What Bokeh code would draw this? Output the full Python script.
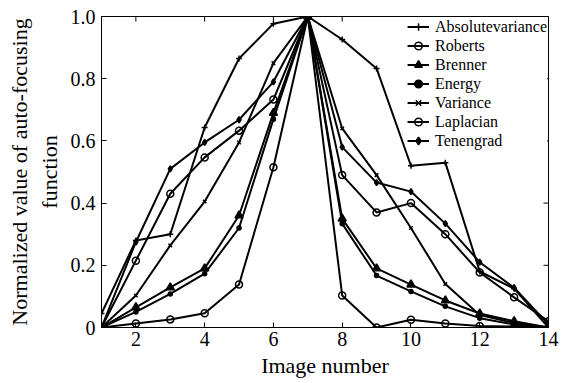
import math
from bokeh.plotting import figure
from bokeh.models import FixedTicker, Range1d, Legend, LegendItem
from bokeh.embed import file_html
from bokeh.resources import INLINE

image_number = list(range(1, 15))
absolutevariance = [0.045, 0.28, 0.30, 0.643, 0.865, 0.977, 1.0, 0.926, 0.833, 0.52, 0.53, 0.18, 0.125, 0.0]
roberts = [0.0, 0.013, 0.026, 0.046, 0.138, 0.515, 1.0, 0.103, 0.0, 0.025, 0.013, 0.005, 0.003, 0.0]
brenner = [0.0, 0.065, 0.129, 0.19, 0.36, 0.69, 1.0, 0.35, 0.19, 0.138, 0.087, 0.045, 0.02, 0.0]
energy = [0.0, 0.05, 0.108, 0.173, 0.32, 0.67, 1.0, 0.334, 0.167, 0.116, 0.068, 0.03, 0.01, 0.0]
variance = [0.0, 0.103, 0.264, 0.405, 0.595, 0.85, 1.0, 0.64, 0.49, 0.32, 0.14, 0.04, 0.015, 0.0]
laplacian = [0.0, 0.215, 0.43, 0.547, 0.633, 0.733, 1.0, 0.49, 0.37, 0.40, 0.30, 0.177, 0.097, 0.02]
tenengrad = [0.0, 0.275, 0.51, 0.595, 0.668, 0.79, 1.0, 0.58, 0.466, 0.437, 0.334, 0.21, 0.128, 0.01]

series_names = ["Absolutevariance", "Roberts", "Brenner", "Energy", "Variance", "Laplacian", "Tenengrad"]
series_values = [absolutevariance, roberts, brenner, energy, variance, laplacian, tenengrad]
x_ticks = [2, 4, 6, 8, 10, 12, 14]
y_ticks = [0, 0.2, 0.4, 0.6, 0.8, 1.0]
y_tick_labels = {0: "0", 0.2: "0.2", 0.4: "0.4", 0.6: "0.6", 0.8: "0.8", 1.0: "1.0"}

FONT = "Liberation Serif"
X_MIN, X_MAX, Y_MIN, Y_MAX = 1, 14, 0, 1

p = figure(width=565, height=383, output_backend="svg", toolbar_location=None,
           x_range=Range1d(X_MIN, X_MAX), y_range=Range1d(Y_MIN, Y_MAX),
           min_border_left=101, min_border_right=17, min_border_top=16, min_border_bottom=56)
p.background_fill_color = "white"
p.border_fill_color = "white"
p.outline_line_color = "black"
p.outline_line_width = 1
p.grid.visible = False

# inner tick marks on top and right frame edges (half of each dash is clipped by the frame)
p.scatter(x_ticks, [Y_MAX] * len(x_ticks), marker="dash", size=10, angle=math.pi / 2,
          line_color="black", line_width=1)
p.scatter([X_MAX] * len(y_ticks), y_ticks, marker="dash", size=10, angle=0,
          line_color="black", line_width=1)

styles = [
    dict(marker="cross", size=6, fill_color="black"),
    dict(marker="circle", size=7, fill_color=None),
    dict(marker="triangle", size=8, fill_color="black"),
    dict(marker="circle", size=4, fill_color="black"),
    dict(marker="x", size=5, fill_color="black"),
    dict(marker="circle", size=7, fill_color=None),
    dict(marker="diamond", size=6, fill_color="black"),
]

items = []
for name, vals, st in zip(series_names, series_values, styles):
    ln = p.line(image_number, vals, line_color="black", line_width=2)
    sc = p.scatter(image_number, vals, marker=st["marker"], size=st["size"],
                   line_color="black", line_width=1.5, fill_color=st["fill_color"])
    items.append(LegendItem(label=name, renderers=[ln, sc]))

legend = Legend(items=items, location="top_right")
legend.label_text_font = FONT
legend.label_text_font_size = "16px"
legend.label_text_color = "black"
legend.background_fill_color = "white"
legend.background_fill_alpha = 1.0
legend.border_line_color = None
legend.glyph_width = 22
legend.glyph_height = 19
legend.label_height = 19
legend.spacing = 0
legend.label_standoff = 6
legend.padding = 2
legend.margin = 1
p.add_layout(legend)

def style_axis(ax):
    ax.axis_line_color = "black"
    ax.major_tick_line_color = "black"
    ax.major_tick_in = 5
    ax.major_tick_out = 0
    ax.minor_tick_line_color = None
    ax.major_label_text_font = FONT
    ax.major_label_text_color = "black"
    ax.major_label_text_font_size = "20px"
    ax.axis_label_text_font = FONT
    ax.axis_label_text_font_style = "normal"
    ax.axis_label_text_color = "black"
    ax.axis_label_text_font_size = "22px"

xa = p.xaxis[0]
xa.ticker = FixedTicker(ticks=x_ticks)
xa.axis_label = "Image number"
xa.major_label_standoff = 4
xa.axis_label_standoff = 4
style_axis(xa)

ya = p.yaxis[0]
ya.ticker = FixedTicker(ticks=y_ticks)
ya.major_label_overrides = y_tick_labels
ya.axis_label = "Normalized value of auto-focusing\nfunction"
ya.major_label_standoff = 6
ya.axis_label_standoff = 6
style_axis(ya)

open("out.html", "w").write(file_html(p, INLINE))
